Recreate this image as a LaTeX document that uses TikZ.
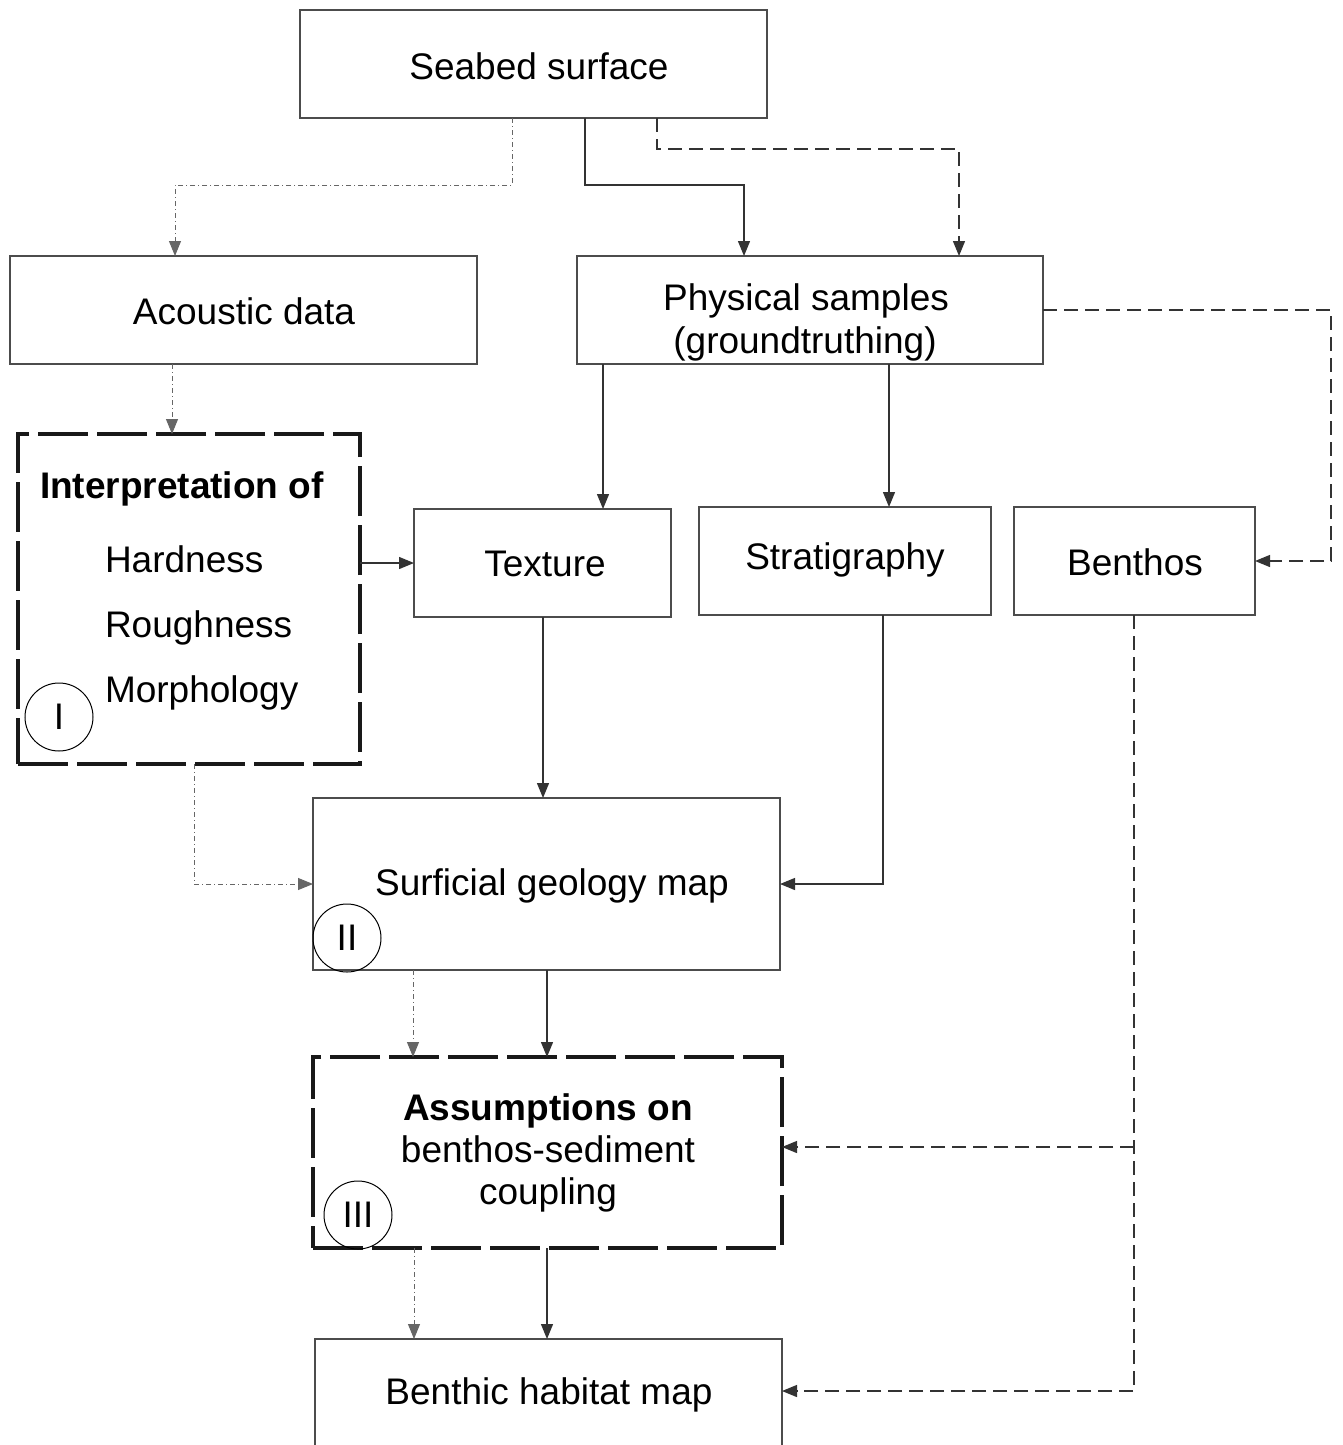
\documentclass[tikz,border=0pt]{standalone}
\usepackage{fontspec}
\setmainfont{Liberation Sans}
\usetikzlibrary{arrows.meta}
\begin{document}
\begin{tikzpicture}[x=1pt,y=-1pt,
  every node/.style={font=\fontsize{37}{42}\selectfont, inner sep=0pt, outer sep=0pt},
  box/.style={draw=black!70, line width=1.3pt},
  thickbox/.style={draw=black!90, line width=4.5pt, dash pattern=on 50pt off 9pt},
  txt/.style={anchor=base},
  txtl/.style={anchor=base west},
  conn/.style={draw=black!80, line width=1.3pt, -{Triangle[length=15pt,width=12pt]}},
  dashconn/.style={conn, dash pattern=on 14pt off 7pt},
  dotconn/.style={conn, draw=black!60, line width=1pt, dash pattern=on 5pt off 3pt on 1pt off 3pt},
  roman/.style={draw=black, line width=1pt, circle, minimum size=68pt}
]
\useasboundingbox (0,0) rectangle (1342,1445);
\clip (0,0) rectangle (1342,1445);
\fill[white] (0,0) rectangle (1342,1445);

% boxes
\node[box, minimum width=467pt, minimum height=108pt] (seabed) at (533.5,64) {};
\node[box, minimum width=467pt, minimum height=108pt] (acoustic) at (243.5,310) {};
\node[box, minimum width=466pt, minimum height=108pt] (physical) at (810,310) {};
\node[thickbox, minimum width=342pt, minimum height=330pt] (interp) at (189,599) {};
\node[box, minimum width=257pt, minimum height=108pt] (texture) at (542.5,563) {};
\node[box, minimum width=292pt, minimum height=108pt] (strat) at (845,561) {};
\node[box, minimum width=241pt, minimum height=108pt] (benthos) at (1134.5,561) {};
\node[box, minimum width=467pt, minimum height=172pt] (surficial) at (546.5,884) {};
\node[thickbox, minimum width=469pt, minimum height=191pt] (assump) at (547.5,1152.5) {};
\node[box, minimum width=467pt, minimum height=130pt, anchor=north] (habitat) at (548.5,1339) {};

% texts
\node[txt] (seabedT) at (539,80) {Seabed surface};
\node[txt] (acousticT) at (244,324) {Acoustic data};
\node[txt] (physT1) at (806,310) {Physical samples};
\node[txt] (physT2) at (805,353) {(groundtruthing)};
\node[txtl, font=\fontsize{37}{42}\selectfont\bfseries] (interpT) at (40,498) {Interpretation of};
\node[txtl] (hard) at (105,572) {Hardness};
\node[txtl] (rough) at (105,637) {Roughness};
\node[txtl] (morph) at (105,702) {Morphology};
\node[txt] (textureT) at (545,576) {Texture};
\node[txt] (stratT) at (845,569) {Stratigraphy};
\node[txt] (benthosT) at (1135,575) {Benthos};
\node[txt] (surficialT) at (552,895) {Surficial geology map};
\node[txt, font=\fontsize{37}{42}\selectfont\bfseries] (assumpT1) at (548,1120) {Assumptions on};
\node[txt] (assumpT2) at (548,1162) {benthos-sediment};
\node[txt] (assumpT3) at (548,1204) {coupling};
\node[txt] (habitatT) at (549,1404) {Benthic habitat map};

% roman numerals
\node[roman] (r1) at (59,717) {I};
\node[roman] (r2) at (347,938) {II};
\node[roman] (r3) at (358,1215) {III};

% connectors
\draw[dotconn] (512,0 |- seabed.south) -- (512,185) -- (175,185) -- (175,0 |- acoustic.north);
\draw[conn] (585,0 |- seabed.south) -- (585,185) -- (744,185) -- (744,0 |- physical.north);
\draw[dashconn] (657,0 |- seabed.south) -- (657,149) -- (959,149) -- (959,0 |- physical.north);
\draw[dotconn] (172,0 |- acoustic.south) -- (172,0 |- interp.north);
\draw[conn] (interp.east |- texture.west) -- (texture.west);
\draw[conn] (603,0 |- physical.south) -- (603,0 |- texture.north);
\draw[conn] (889,0 |- physical.south) -- (889,0 |- strat.north);
\draw[dashconn] (physical.east) -- (1331,310) -- (1331,561) -- (benthos.east);
\draw[conn] (543,0 |- texture.south) -- (543,0 |- surficial.north);
\draw[conn] (883,0 |- strat.south) |- (surficial.east);
\draw[dotconn] (194,0 |- interp.south) |- (surficial.west);
\draw[dotconn] (413,0 |- surficial.south) -- (413,0 |- assump.north);
\draw[conn] (547,0 |- surficial.south) -- (547,0 |- assump.north);
\coordinate (j) at (1134,1147);
\draw[dashconn] (1134,0 |- benthos.south) -- (1134,1391) -- (habitat.east |- 0,1391);
\draw[dashconn] (j) -- (assump.east |- j);
\draw[dotconn] (414,0 |- assump.south) -- (414,0 |- habitat.north);
\draw[conn] (547,0 |- assump.south) -- (547,0 |- habitat.north);
\end{tikzpicture}
\end{document}
